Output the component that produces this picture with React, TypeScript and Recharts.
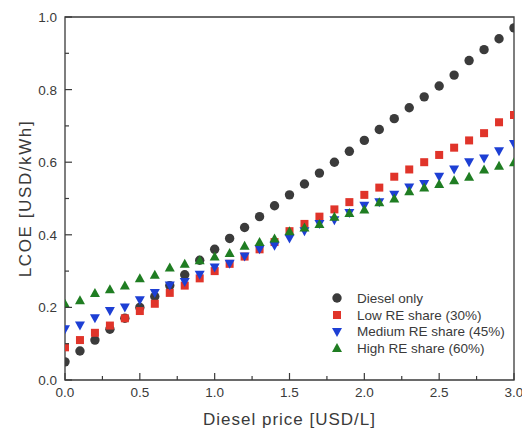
import React from 'react';
import { ScatterChart, Scatter, XAxis, YAxis, ReferenceArea } from 'recharts';

// Diesel price [USD/L], 0.0 to 3.0 in steps of 0.1
const xValues = [
  0.0, 0.1, 0.2, 0.3, 0.4, 0.5, 0.6, 0.7, 0.8, 0.9, 1.0,
  1.1, 1.2, 1.3, 1.4, 1.5, 1.6, 1.7, 1.8, 1.9, 2.0,
  2.1, 2.2, 2.3, 2.4, 2.5, 2.6, 2.7, 2.8, 2.9, 3.0,
];

// LCOE [USD/kWh] per scenario
const dieselOnly = [
  0.05, 0.08, 0.11, 0.14, 0.17, 0.20, 0.23, 0.26, 0.29, 0.33, 0.36,
  0.39, 0.42, 0.45, 0.48, 0.51, 0.54, 0.57, 0.60, 0.63, 0.66,
  0.69, 0.72, 0.75, 0.78, 0.81, 0.84, 0.88, 0.91, 0.94, 0.97,
];
const lowRE = [
  0.09, 0.11, 0.13, 0.15, 0.17, 0.19, 0.21, 0.24, 0.26, 0.28, 0.30,
  0.32, 0.34, 0.36, 0.38, 0.41, 0.43, 0.45, 0.47, 0.49, 0.51,
  0.53, 0.56, 0.58, 0.60, 0.62, 0.64, 0.66, 0.68, 0.71, 0.73,
];
const mediumRE = [
  0.14, 0.15, 0.17, 0.19, 0.20, 0.22, 0.24, 0.26, 0.27, 0.29, 0.31,
  0.32, 0.34, 0.36, 0.37, 0.39, 0.41, 0.43, 0.44, 0.46, 0.48,
  0.49, 0.51, 0.53, 0.54, 0.56, 0.58, 0.60, 0.61, 0.63, 0.65,
];
const highRE = [
  0.21, 0.22, 0.24, 0.25, 0.26, 0.28, 0.29, 0.31, 0.32, 0.33, 0.34,
  0.35, 0.37, 0.38, 0.39, 0.41, 0.42, 0.43, 0.45, 0.46, 0.47,
  0.49, 0.50, 0.52, 0.53, 0.54, 0.55, 0.56, 0.58, 0.59, 0.60,
];

const xTicks = [0, 0.25, 0.5, 0.75, 1, 1.25, 1.5, 1.75, 2, 2.25, 2.5, 2.75, 3];
const yTicks = [0, 0.1, 0.2, 0.3, 0.4, 0.5, 0.6, 0.7, 0.8, 0.9, 1.0];

const FONT = '"Liberation Sans", Arial, sans-serif';
const INK = '#3a3a3a';

type Marker = 'circle' | 'square' | 'down' | 'up';

const series: { name: string; values: number[]; color: string; marker: Marker }[] = [
  { name: 'Diesel only', values: dieselOnly, color: '#3b3b3b', marker: 'circle' },
  { name: 'Low RE share (30%)', values: lowRE, color: '#e0342a', marker: 'square' },
  { name: 'Medium RE share (45%)', values: mediumRE, color: '#1d3fd4', marker: 'down' },
  { name: 'High RE share (60%)', values: highRE, color: '#1f7d22', marker: 'up' },
];

const drawMarker = (marker: Marker, cx: number, cy: number, color: string) => {
  switch (marker) {
    case 'circle':
      return <circle cx={cx} cy={cy} r={4.7} fill={color} />;
    case 'square':
      return <rect x={cx - 4} y={cy - 4} width={8} height={8} fill={color} />;
    case 'down':
      return <polygon points={`${cx - 5},${cy - 4} ${cx + 5},${cy - 4} ${cx},${cy + 5}`} fill={color} />;
    default:
      return <polygon points={`${cx - 5},${cy + 4} ${cx + 5},${cy + 4} ${cx},${cy - 5}`} fill={color} />;
  }
};

const XTick = (props: any) => {
  const { x, y, index, payload } = props;
  const major = index % 2 === 0;
  return (
    <g>
      <line x1={x} x2={x} y1={y} y2={y - (major ? 7 : 4)} stroke={INK} strokeWidth={1.2} />
      {major && (
        <text x={x} y={y + 17} textAnchor="middle" fontSize={13.5} fill={INK} fontFamily={FONT}>
          {payload.value.toFixed(1)}
        </text>
      )}
    </g>
  );
};

const YTick = (props: any) => {
  const { x, y, index, payload } = props;
  const major = index % 2 === 0;
  return (
    <g>
      <line x1={x} x2={x + (major ? 7 : 4)} y1={y} y2={y} stroke={INK} strokeWidth={1.2} />
      {major && (
        <text x={x - 8} y={y + 5} textAnchor="end" fontSize={13.5} fill={INK} fontFamily={FONT}>
          {payload.value.toFixed(1)}
        </text>
      )}
    </g>
  );
};

export default function App() {
  return (
    <div style={{ position: 'absolute', left: 0, top: 0, width: 522, height: 429, background: '#fff' }}>
      <ScatterChart width={522} height={429} margin={{ top: 17, right: 8, bottom: 0, left: 0 }}>
        <XAxis
          type="number"
          dataKey="x"
          domain={[0, 3]}
          ticks={xTicks}
          interval={0}
          allowDataOverflow
          axisLine={false}
          tickLine={false}
          tickSize={0}
          tickMargin={0}
          tick={<XTick />}
          height={49}
          label={{
            value: 'Diesel price [USD/L]',
            position: 'insideBottom',
            offset: 4,
            style: { fontSize: 17, fill: INK, fontFamily: FONT, letterSpacing: 1 },
          }}
        />
        <YAxis
          type="number"
          dataKey="y"
          domain={[0, 1]}
          ticks={yTicks}
          interval={0}
          allowDataOverflow
          axisLine={false}
          tickLine={false}
          tickSize={0}
          tickMargin={0}
          tick={<YTick />}
          width={65}
          label={{
            value: 'LCOE [USD/kWh]',
            angle: -90,
            position: 'insideLeft',
            offset: 25,
            style: { fontSize: 17, fill: INK, fontFamily: FONT, textAnchor: 'middle', letterSpacing: 1.6 },
          }}
        />
        <ReferenceArea x1={0} x2={3} y1={0} y2={1} fill="none" stroke={INK} strokeWidth={1.3} />
        {series.map((s) => (
          <Scatter
            key={s.name}
            name={s.name}
            data={xValues.map((x, i) => ({ x, y: s.values[i] }))}
            isAnimationActive={false}
            shape={(p: any) => drawMarker(s.marker, p.cx, p.cy, s.color)}
          />
        ))}
      </ScatterChart>
      <div style={{ position: 'absolute', left: 330, top: 290, fontFamily: FONT, fontSize: 13.5, color: INK }}>
        {series.map((s) => (
          <div key={s.name} style={{ display: 'flex', alignItems: 'center', height: 16.7 }}>
            <svg width={14} height={14} style={{ marginRight: 13 }}>
              {drawMarker(s.marker, 7, 7, s.color)}
            </svg>
            <span>{s.name}</span>
          </div>
        ))}
      </div>
    </div>
  );
}
